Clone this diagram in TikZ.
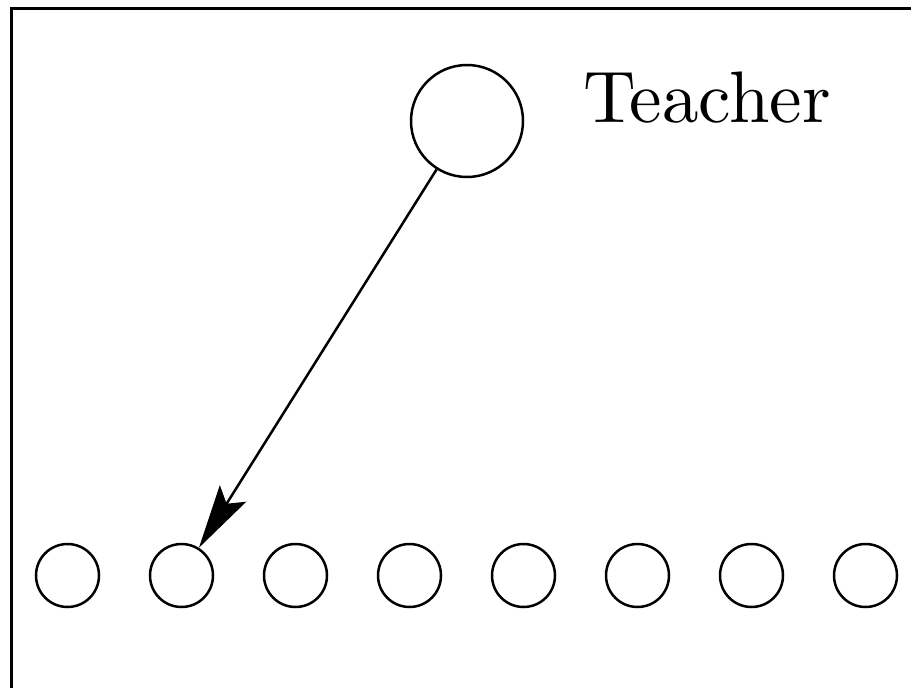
\documentclass[tikz,border=0pt]{standalone}
\usepackage{fontspec}
\newfontfamily\lmten{lmroman10-regular}[Extension=.otf]
\usetikzlibrary{arrows.meta}
\begin{document}
\begin{tikzpicture}[x=1pt,y=-1pt,
  unit/.style={circle,draw,line width=2.5pt,minimum size=63pt,inner sep=0pt},
  teacher/.style={circle,draw,line width=2.5pt,minimum size=112pt,inner sep=0pt},
  link/.style={line width=2.5pt,-{Stealth[length=64pt,width=31pt,inset=12pt]}}]
\useasboundingbox (0,0) rectangle (911,688);
\draw[line width=3pt] (11,8) rectangle (935,689.2);
\node[teacher] (T) at (467,121) {};
\node[anchor=base west,inner sep=0pt,font=\lmten\fontsize{73}{88}\selectfont] (lbl) at (583,122) {Teacher};
\foreach \i in {1,...,8}{
  \node[unit] (s\i) at ({67.5+114*(\i-1)},575.5) {};
}
\draw[link] (T) -- (s2);
\end{tikzpicture}
\end{document}
